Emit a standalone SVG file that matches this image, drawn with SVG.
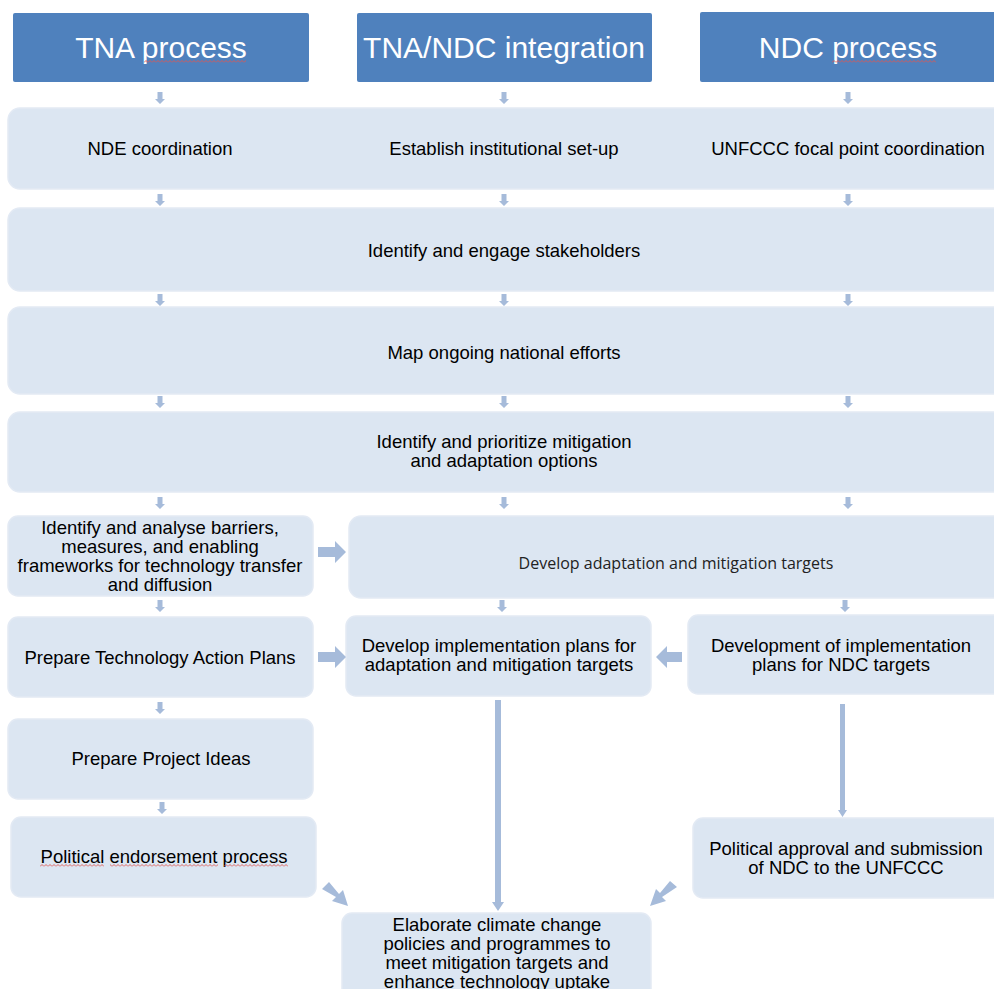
<svg xmlns="http://www.w3.org/2000/svg" width="994" height="989" viewBox="0 0 994 989">
<defs>
<style>
.hdr{fill:#4F81BD;}
.hdrt{fill:#ffffff;font-family:"Liberation Sans",Arial,sans-serif;font-size:30px;text-anchor:middle;}
.box{fill:#DCE6F2;stroke:#E3EAF4;stroke-width:1.5;}
.t{fill:#000000;font-family:"Liberation Sans",Arial,sans-serif;font-size:18.5px;text-anchor:middle;}
.tc{fill:#222222;font-family:"Open Sans","Liberation Sans",sans-serif;font-size:16px;text-anchor:middle;}
.ar{fill:#A6BBDA;}
.sq{fill:url(#wave);}
</style>
<pattern id="wave" x="0" y="0" width="4" height="3" patternUnits="userSpaceOnUse">
<path d="M0,2.5 L2,0.5 L4,2.5" fill="none" stroke="#E0564F" stroke-width="0.9"/>
</pattern>
<path id="sd" d="M-2.5,0 H2.5 V7 H5 L0,12 L-5,7 H-2.5 Z"/>
</defs>
<rect width="994" height="989" fill="#ffffff"/>

<g id="h-tna"><rect class="hdr" x="13" y="13" width="296" height="69" rx="2"/><text class="hdrt" x="161" y="57.5">TNA process</text><rect class="sq" x="144" y="60" width="102" height="3"/></g>
<g id="h-int"><rect class="hdr" x="357" y="13" width="295" height="69" rx="2"/><text class="hdrt" x="504" y="57.5">TNA/NDC integration</text></g>
<g id="h-ndc"><rect class="hdr" x="700" y="12" width="300" height="70" rx="2"/><text class="hdrt" x="848" y="57.5">NDC process</text><rect class="sq" x="832" y="60" width="104" height="3"/></g>

<g id="n1"><rect class="box" x="8" y="108" width="1000" height="81" rx="12"/>
<text class="t" x="160" y="154.5">NDE coordination</text>
<text class="t" x="504" y="154.5">Establish institutional set-up</text>
<text class="t" x="848" y="154.5">UNFCCC focal point coordination</text></g>
<g id="n2"><rect class="box" x="8" y="208" width="1000" height="83" rx="12"/><text class="t" x="504" y="256.5">Identify and engage stakeholders</text></g>
<g id="n3"><rect class="box" x="8" y="307" width="1000" height="87" rx="12"/><text class="t" x="504" y="358.5">Map ongoing national efforts</text></g>
<g id="n4"><rect class="box" x="8" y="412" width="1000" height="80" rx="12"/><text class="t" x="504" y="447.5">Identify and prioritize mitigation</text><text class="t" x="504" y="466.5">and adaptation options</text></g>
<g id="n5"><rect class="box" x="8" y="516" width="305" height="80" rx="10"/>
<text class="t" x="160" y="533.5">Identify and analyse barriers,</text>
<text class="t" x="160" y="552.5">measures, and enabling</text>
<text class="t" x="160" y="571.5">frameworks for technology transfer</text>
<text class="t" x="160" y="590.5">and diffusion</text></g>
<g id="n6"><rect class="box" x="349" y="516" width="660" height="82" rx="12"/><text class="tc" x="676" y="568.5">Develop adaptation and mitigation targets</text></g>
<g id="n7"><rect class="box" x="8" y="617" width="305" height="80" rx="10"/><text class="t" x="160" y="663.5">Prepare Technology Action Plans</text></g>
<g id="n8"><rect class="box" x="346" y="616" width="305" height="80" rx="10"/><text class="t" x="499" y="651.5">Develop implementation plans for</text><text class="t" x="499" y="670.5">adaptation and mitigation targets</text></g>
<g id="n9"><rect class="box" x="688" y="615" width="320" height="79" rx="10"/><text class="t" x="841" y="651.5">Development of implementation</text><text class="t" x="841" y="670.5">plans for NDC targets</text></g>
<g id="n10"><rect class="box" x="8" y="719" width="305" height="80" rx="10"/><text class="t" x="161" y="764.5">Prepare Project Ideas</text></g>
<g id="n11"><rect class="box" x="11" y="817" width="305" height="80" rx="10"/><text class="t" x="164" y="862.5">Political endorsement process</text>
<rect class="sq" x="40" y="864" width="64" height="3"/><rect class="sq" x="110" y="864" width="108" height="3"/><rect class="sq" x="224" y="864" width="64" height="3"/></g>
<g id="n12"><rect class="box" x="693" y="818" width="315" height="80" rx="10"/><text class="t" x="846" y="854.5">Political approval and submission</text><text class="t" x="846" y="873.5">of NDC to the UNFCCC</text></g>
<g id="n13"><rect class="box" x="342" y="913" width="309" height="90" rx="10"/>
<text class="t" x="497" y="931">Elaborate climate change</text>
<text class="t" x="497" y="950">policies and programmes to</text>
<text class="t" x="497" y="969">meet mitigation targets and</text>
<text class="t" x="497" y="988">enhance technology uptake</text></g>

<g id="connectors" class="ar">
<use href="#sd" x="160" y="92"/><use href="#sd" x="504" y="92"/><use href="#sd" x="848" y="92"/>
<use href="#sd" x="160" y="194"/><use href="#sd" x="504" y="194"/><use href="#sd" x="848" y="194"/>
<use href="#sd" x="160" y="294"/><use href="#sd" x="504" y="294"/><use href="#sd" x="848" y="294"/>
<use href="#sd" x="160" y="396"/><use href="#sd" x="504" y="396"/><use href="#sd" x="848" y="396"/>
<use href="#sd" x="160" y="497"/><use href="#sd" x="504" y="497"/><use href="#sd" x="848" y="497"/>
<use href="#sd" x="160" y="600"/><use href="#sd" x="502" y="600"/><use href="#sd" x="845" y="600"/>
<use href="#sd" x="160" y="702"/>
<use href="#sd" x="162" y="802"/>
<path d="M318,547 H335 V541 L346,552 L335,563 V557 H318 Z"/>
<path d="M318,652 H335 V646 L346,657 L335,668 V662 H318 Z"/>
<path d="M682,652 H667 V646 L656,657 L667,668 V662 H682 Z"/>
<path d="M495,700 H501 V902 H504 L498,911 L492,902 H495 Z"/>
<path d="M840,704 H845 V810 H847 L842.5,817 L838,810 H840 Z"/>
<path d="M322,889 L329,882 L339,894 L343,890 L348,906 L332,901 L336,897 Z"/>
<path d="M677,887 L670,881 L660,893 L656,889 L650,906 L666,901 L662,897 Z"/>
</g>
</svg>
